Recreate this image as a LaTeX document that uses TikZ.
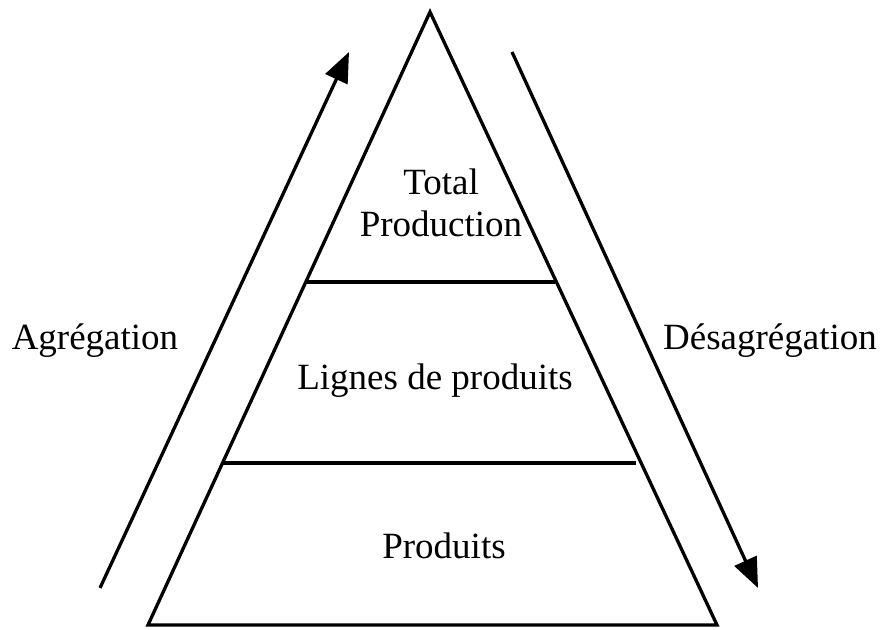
\documentclass[tikz,border=0pt]{standalone}
\usepackage{fontspec}
\setmainfont{Liberation Serif}
\usetikzlibrary{arrows.meta}
\begin{document}
\begin{tikzpicture}[x=1pt,y=-1pt,
  edge/.style={line width=3.3pt,line join=miter},
  bigarrow/.style={line width=3.3pt,-{Triangle[length=30pt,width=24pt]}},
  lbl/.style={font=\fontsize{37}{42}\selectfont,align=center,inner sep=0pt}]
\useasboundingbox (0,0) rectangle (882,629);
\coordinate (apex) at (430,12);
\coordinate (bl) at (148,625);
\coordinate (br) at (717,625);
\coordinate (l1a) at (306,282);
\coordinate (l1b) at (555,282);
\coordinate (l2a) at (222,463);
\coordinate (l2b) at (636,463);
\draw[edge] (bl) -- (apex) -- (br) -- cycle;
\draw[edge] (l1a) -- (l1b);
\draw[edge] (l2a) -- (l2b);
\coordinate (ua) at (100,588);
\coordinate (ub) at (349,52);
\coordinate (da) at (512,52);
\coordinate (db) at (758,588);
\draw[bigarrow] (ua) -- (ub);
\draw[bigarrow] (da) -- (db);
\node[lbl] (tp) at (441,203) {Total\\Production};
\node[lbl] (lp) at (435,381) {Lignes de produits};
\node[lbl] (pr) at (444,546) {Produits};
\node[lbl] (ag) at (95,341) {Agrégation};
\node[lbl] (de) at (770,341) {Désagrégation};
\end{tikzpicture}
\end{document}
